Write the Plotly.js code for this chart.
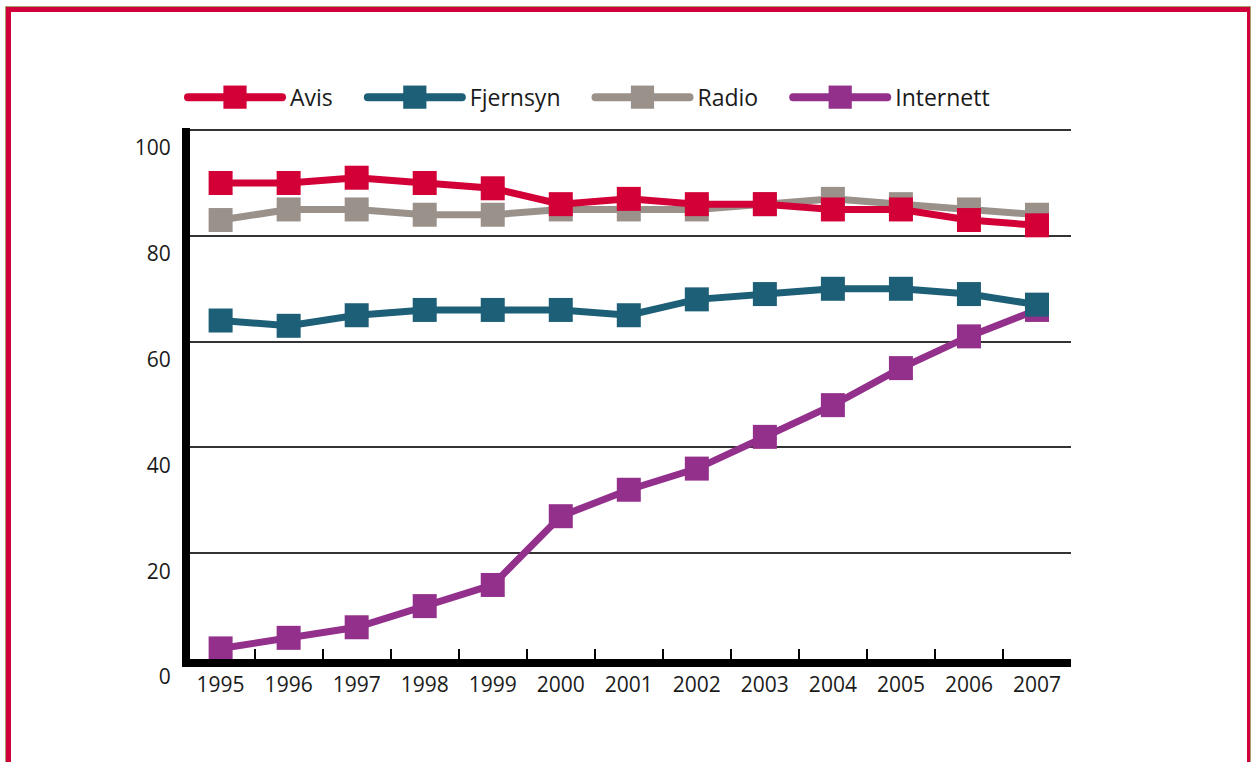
<!DOCTYPE html>
<html>
<head>
<meta charset="utf-8">
<script src="https://cdn.plot.ly/plotly-3.0.1.min.js"></script>
<style>
  html, body { margin: 0; padding: 0; background: #fff; overflow: hidden; }
  #chart { position: absolute; left: 0; top: 0; width: 1251px; height: 762px; }
  #frame { position: absolute; left: 6px; top: 7px; width: 1244px; height: 800px; box-sizing: border-box;
           border: 5px solid #D2003A; border-right-width: 3px; outline: 1px solid #A4A273; pointer-events: none; }
</style>
</head>
<body>
<div id="chart"></div>
<div id="frame"></div>
<script>
const years = ['1995','1996','1997','1998','1999','2000','2001','2002','2003','2004','2005','2006','2007'];
const avis      = [90, 90, 91, 90, 89, 86, 87, 86, 86, 85, 85, 83, 82];
const fjernsyn  = [64, 63, 65, 66, 66, 66, 65, 68, 69, 70, 70, 69, 67];
const radio     = [83, 85, 85, 84, 84, 85, 85, 85, 86, 87, 86, 85, 84];
const internett = [2, 4, 6, 10, 14, 27, 32, 36, 42, 48, 55, 61, 66];
const yTicks = [0, 20, 40, 60, 80, 100];

function series(name, y, color, rank) {
  return {
    type: 'scatter', mode: 'lines+markers', name: name, x: years, y: y,
    line: { color: color, width: 7 },
    marker: { symbol: 'square', size: 24, color: color, line: { width: 0 } },
    legendrank: rank
  };
}

const data = [
  series('Radio', radio, '#9A918B', 3),
  series('Internett', internett, '#93308B', 4),
  series('Fjernsyn', fjernsyn, '#1D5F77', 2),
  series('Avis', avis, '#D20036', 1)
];

const tickFont = { family: 'Open Sans, sans-serif', size: 21, color: '#1a1a1a' };
const legendFont = { family: 'Open Sans, sans-serif', size: 23, color: '#1a1a1a' };

const layout = {
  width: 1251, height: 762,
  margin: { l: 190, r: 180, t: 128, b: 103 },
  paper_bgcolor: '#fff', plot_bgcolor: '#fff',
  font: tickFont,
  showlegend: true,
  legend: {
    orientation: 'h', x: 0, xanchor: 'left', y: 1.058, yanchor: 'middle',
    font: legendFont, itemwidth: 90, bgcolor: 'rgba(0,0,0,0)', itemclick: false
  },
  xaxis: {
    type: 'category', range: [-0.45, 12.5], fixedrange: true,
    showgrid: false, zeroline: false,
    showline: true, linecolor: '#000', linewidth: 8,
    ticks: 'inside', tickson: 'boundaries', ticklen: 10, tickwidth: 2, tickcolor: '#000',
    tickfont: tickFont
  },
  yaxis: {
    range: [0, 100.4], fixedrange: true,
    tickvals: yTicks, ticktext: yTicks.map(String),
    showgrid: true, gridcolor: '#333', gridwidth: 1.5,
    zeroline: false, showline: true, linecolor: '#000', linewidth: 8,
    ticks: '', ticklabelstandoff: 7, ticklabelshift: 18,
    tickfont: tickFont
  }
};

Plotly.newPlot('chart', data, layout, { displayModeBar: false }).then(function (gd) {
  const legend = gd.querySelector('.legend');
  if (!legend) return;
  legend.querySelectorAll('[clip-path]').forEach(function (el) { el.removeAttribute('clip-path'); });
  const items = Array.prototype.slice.call(legend.querySelectorAll('g.traces'));
  let x = null, y = 0;
  items.forEach(function (t) {
    t.querySelectorAll('.legendlines path').forEach(function (p) {
      p.setAttribute('d', 'M-2,0h94');
      p.style.strokeWidth = '8px';
      p.style.strokeLinecap = 'round';
    });
    t.querySelectorAll('.legendpoints path').forEach(function (p) { p.setAttribute('transform', 'translate(45,0) scale(1.45)'); });
    const m = /translate\(\s*([-\d.]+)[ ,]+([-\d.]+)/.exec(t.getAttribute('transform') || '');
    if (x === null) { x = m ? parseFloat(m[1]) : 0; y = m ? parseFloat(m[2]) : 0; }
    t.setAttribute('transform', 'translate(' + x + ',' + y + ')');
    const txt = t.querySelector('text.legendtext');
    const tx = parseFloat(txt.getAttribute('x')) || 100;
    x += tx + txt.getBBox().width + 37;
  });
});
</script>
</body>
</html>
